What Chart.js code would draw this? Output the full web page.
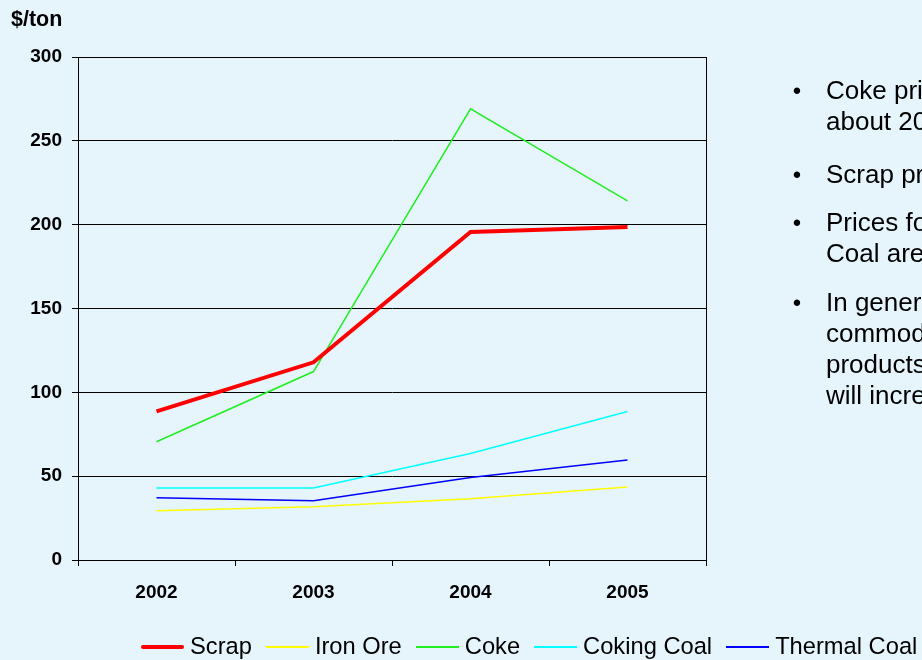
<!DOCTYPE html>
<html>
<head>
<meta charset="utf-8">
<script src="https://cdn.jsdelivr.net/npm/chart.js@4.4.1/dist/chart.umd.min.js"></script>
<style>
  html, body { margin: 0; padding: 0; }
  body {
    width: 922px; height: 660px; overflow: hidden; position: relative;
    background: #e6f4fc;
    font-family: "Liberation Sans", Arial, sans-serif;
    color: #000;
  }
  #wrap { position: absolute; left: 0; top: 0; width: 922px; height: 660px; }
  #unit {
    position: absolute; left: 11px; top: 7px;
    font: bold 21.5px "Liberation Sans", Arial, sans-serif;
  }
  .para { position: absolute; left: 790px; white-space: nowrap; font-size: 26px; line-height: 31px; }
  .para .dot { position: absolute; left: 0; top: 0; width: 14px; text-align: center; font-size: 24px; }
  .para .txt { position: absolute; left: 36px; top: 0; }
  #legend {
    position: absolute; left: 141px; top: 633px; height: 27px;
    display: flex; align-items: center; white-space: nowrap;
    font-size: 23.7px; line-height: 27px;
  }
  #legend .item { display: flex; align-items: center; margin-right: 14px; }
  #legend .swatch { width: 43px; margin-right: 6px; }
</style>
</head>
<body>
<div id="wrap"><canvas id="c" width="922" height="660"></canvas></div>
<div id="unit">$/ton</div>

<div class="para" style="top:75px"><span class="dot">•</span><span class="txt">Coke prices<br>about 200%</span></div>
<div class="para" style="top:159px"><span class="dot">•</span><span class="txt">Scrap prices</span></div>
<div class="para" style="top:207px"><span class="dot">•</span><span class="txt">Prices for<br>Coal are</span></div>
<div class="para" style="top:287px"><span class="dot">•</span><span class="txt">In general<br>commodity<br>products<br>will increase</span></div>

<div id="legend"></div>

<script>
// Raw material prices, $/ton
const years = ['2002', '2003', '2004', '2005'];
const scrap = [88.6, 117.9, 195.6, 198.6];
const ironOre = [29.3, 31.7, 36.6, 43.5];
const coke = [70.5, 112.4, 269.1, 214.2];
const cokingCoal = [42.9, 42.9, 63.5, 88.6];
const thermalCoal = [37.2, 35.3, 49.2, 59.6];

const seriesNames = ['Scrap', 'Iron Ore', 'Coke', 'Coking Coal', 'Thermal Coal'];
const seriesValues = [scrap, ironOre, coke, cokingCoal, thermalCoal];
const seriesColors = ['#ff0000', '#ffff00', '#22ee22', '#00ffff', '#0000ff'];
const seriesWidths = [4, 1.5, 1.5, 1.5, 1.5];
const yTicks = [0, 50, 100, 150, 200, 250, 300];

const tickFont = { family: '"Liberation Sans", Arial, sans-serif', size: 19, weight: 'bold' };

// Box around the plot area
const plotFrame = {
  id: 'plotFrame',
  afterDatasetsDraw(chart) {
    const a = chart.chartArea, ctx = chart.ctx;
    ctx.save();
    ctx.strokeStyle = '#000';
    ctx.lineWidth = 1;
    ctx.strokeRect(Math.round(a.left) + 0.5, Math.round(a.top) + 0.5,
                   Math.round(a.right - a.left), Math.round(a.bottom - a.top));
    ctx.restore();
  }
};

const chart = new Chart(document.getElementById('c'), {
  type: 'line',
  data: {
    labels: years,
    datasets: seriesNames.map((name, i) => ({
      label: name,
      data: seriesValues[i],
      borderColor: seriesColors[i],
      backgroundColor: seriesColors[i],
      borderWidth: seriesWidths[i],
      pointRadius: 0,
      tension: 0,
      fill: false
    }))
  },
  options: {
    responsive: false,
    animation: false,
    layout: { padding: { left: 0, top: 57, right: 216, bottom: 48 } },
    plugins: { legend: { display: false }, tooltip: { enabled: false } },
    scales: {
      x: {
        offset: true,
        grid: { offset: true, drawOnChartArea: false, drawTicks: true, tickLength: 6, color: '#000' },
        border: { display: true, color: '#000', width: 1 },
        ticks: { color: '#000', font: tickFont, padding: 15, maxRotation: 0 },
        afterFit(scale) { scale.height = 52; }
      },
      y: {
        min: 0, max: 300,
        afterBuildTicks(scale) { scale.ticks = yTicks.map(v => ({ value: v })); },
        grid: { color: '#000', lineWidth: 1, tickLength: 6, tickColor: '#000' },
        border: { display: true, color: '#000', width: 1 },
        ticks: { color: '#000', font: tickFont, padding: 10 },
        afterFit(scale) { scale.width = 78; }
      }
    }
  },
  plugins: [plotFrame]
});

// Legend built from the same series definitions
const legend = document.getElementById('legend');
seriesNames.forEach((name, i) => {
  const item = document.createElement('div');
  item.className = 'item';
  const sw = document.createElement('div');
  sw.className = 'swatch';
  sw.style.height = (i === 0 ? 4 : 2) + 'px';
  sw.style.background = seriesColors[i];
  if (i === 0) sw.style.borderRadius = '2px';
  const label = document.createElement('span');
  label.textContent = name;
  item.appendChild(sw);
  item.appendChild(label);
  legend.appendChild(item);
});
</script>
</body>
</html>
